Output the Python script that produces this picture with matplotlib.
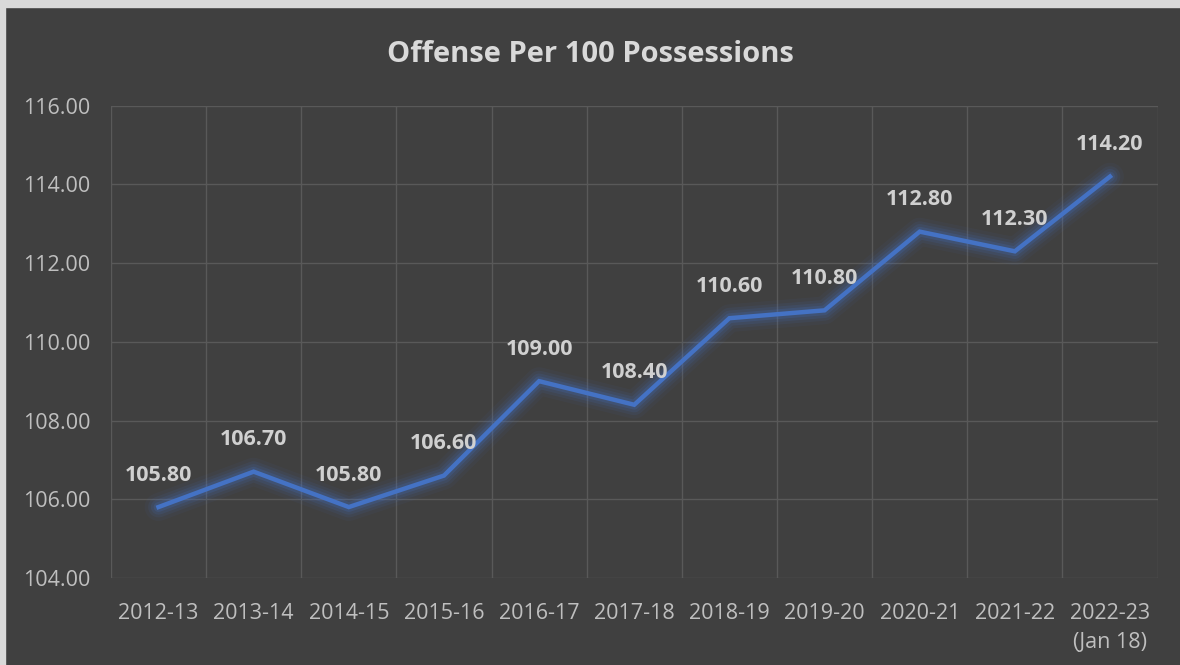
import matplotlib.pyplot as plt
import matplotlib.patches as mpatches

seasons = ['2012-13', '2013-14', '2014-15', '2015-16', '2016-17', '2017-18',
           '2018-19', '2019-20', '2020-21', '2021-22', '2022-23\n(Jan 18)']
offense = [105.8, 106.7, 105.8, 106.6, 109.0, 108.4, 110.6, 110.8, 112.8, 112.3, 114.2]
yticks = [104, 106, 108, 110, 112, 114, 116]

bg = '#404040'
txt = '#bfbfbf'
blue = '#4472c4'

plt.rcParams['font.family'] = ['Open Sans', 'DejaVu Sans']

fig = plt.figure(figsize=(11.8, 6.65), dpi=100, facecolor=bg)
ax = fig.add_axes([0.094, 0.131, 0.887, 0.710])
ax.set_facecolor(bg)

x = list(range(len(seasons)))

# glow under the line
for w, a in [(20, 0.06), (15, 0.09), (11, 0.13), (7, 0.2)]:
    ax.plot(x, offense, color=blue, lw=w, alpha=a, solid_capstyle='round',
            solid_joinstyle='round', zorder=2)
ax.plot(x, offense, color=blue, lw=3.2, solid_joinstyle='miter', zorder=3)

for xi, v in zip(x, offense):
    ax.annotate(f'{v:.2f}', (xi, v), xytext=(0, 23), textcoords='offset points',
                ha='center', va='center', fontsize=15.5, fontweight='bold',
                color='#d0d0d0', zorder=4)

ax.set_xlim(-0.5, len(seasons) - 0.5)
ax.set_ylim(104, 116)
ax.set_yticks(yticks)
ax.set_yticklabels([f'{t:.2f}' for t in yticks])
ax.set_xticks(x)
ax.set_xticklabels(seasons, linespacing=1.5)

# vertical grid at category boundaries
for b in [i - 0.5 for i in range(len(seasons) + 1)]:
    ax.axvline(b, color='#595959', lw=1, zorder=1)
for t in yticks:
    ax.axhline(t, color='#595959', lw=1, zorder=1)

for s in ax.spines.values():
    s.set_visible(False)
ax.tick_params(length=0, colors=txt, labelsize=15.5)
ax.tick_params(axis='x', pad=18)
ax.tick_params(axis='y', pad=15)

fig.text(0.5, 0.918, 'Offense Per 100 Possessions', ha='center', va='center',
         fontsize=21, fontweight='bold', color='#d9d9d9')

# light frame on the top and left edges
fig.patches.append(mpatches.Rectangle((0, 0.99), 1, 0.01, transform=fig.transFigure,
                                      color='#d9d9d9', zorder=0))
fig.patches.append(mpatches.Rectangle((0, 0), 0.004, 1, transform=fig.transFigure,
                                      color='#d9d9d9', zorder=0))

fig.savefig('out.png', dpi=100, facecolor=bg)
